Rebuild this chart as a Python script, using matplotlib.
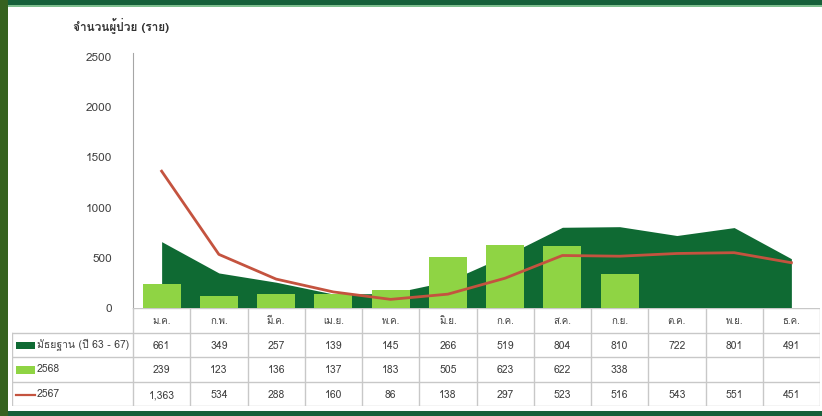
import matplotlib
matplotlib.use("Agg")
import matplotlib.pyplot as plt
from matplotlib import font_manager, ft2font
from matplotlib.patches import Rectangle
from matplotlib.lines import Line2D

# data
months = ["ม.ค.", "ก.พ.", "มี.ค.", "เม.ย.", "พ.ค.", "มิ.ย.", "ก.ค.", "ส.ค.", "ก.ย.", "ต.ค.", "พ.ย.", "ธ.ค."]
median_63_67 = [661, 349, 257, 139, 145, 266, 519, 804, 810, 722, 801, 491]
cases_2568 = [239, 123, 136, 137, 183, 505, 623, 622, 338]
cases_2567 = [1363, 534, 288, 160, 86, 138, 297, 523, 516, 543, 551, 451]
series_names = ["มัธยฐาน (ปี 63 - 67)", "2568", "2567"]
y_title = "จำนวนผู้ป่วย (ราย)"

# find a font with Thai glyphs
thai_font = None
for f in font_manager.fontManager.ttflist:
    try:
        if 0x0E08 in ft2font.FT2Font(f.fname).get_charmap():
            thai_font = f.name
            break
    except Exception:
        pass
fam = [thai_font, "DejaVu Sans"] if thai_font else ["DejaVu Sans"]
plt.rcParams["font.family"] = fam

dark = "#0f6a33"
light = "#8fd444"
red = "#c4533f"
grid_c = "#c8c8c8"
txt_c = "#404040"

W, H = 822, 416
fig = plt.figure(figsize=(W / 100, H / 100), dpi=100)

def fx(px):
    return px / W

def fy(py):
    return 1 - py / H

# main chart
x = list(range(len(months)))
ax = fig.add_axes([fx(133), fy(308), fx(820) - fx(133), fy(53) - fy(308)])
ax.fill_between(x, median_63_67, 0, color=dark, lw=0, zorder=1)
ax.bar(range(len(cases_2568)), cases_2568, width=0.66, color=light, zorder=2)
ax.plot(x, cases_2567, color=red, lw=2, zorder=3)
ax.set_xlim(-0.5, 11.5)
ax.set_ylim(0, 2540)
ax.set_yticks([0, 500, 1000, 1500, 2000, 2500])
ax.tick_params(axis="y", length=0, pad=15, labelsize=8.5, labelcolor=txt_c)
ax.set_xticks([])
for s in ["top", "right", "bottom"]:
    ax.spines[s].set_visible(False)
ax.spines["left"].set_color("#a6a6a6")
fig.text(fx(73), fy(25), y_title, fontsize=8.5, color="#333333", fontweight="bold", va="center", ha="left")

# data table underneath
tab = fig.add_axes([fx(12), fy(406), fx(820) - fx(12), fy(308) - fy(406)])
col_w = 687 / 12
left_x = -0.5 - (133 - 12) / col_w
tab.set_xlim(left_x, 11.5)
tab.set_ylim(4, 0)
tab.axis("off")

tab.plot([-0.5, 11.5], [0, 0], color=grid_c, lw=1)
for r in [1, 2, 3, 4]:
    tab.plot([left_x, 11.5], [r, r], color=grid_c, lw=1)
tab.plot([left_x, left_x], [1, 4], color=grid_c, lw=1)
for i in range(13):
    tab.plot([i - 0.5, i - 0.5], [0, 4], color=grid_c, lw=1)

for i, m in enumerate(months):
    tab.text(i, 0.55, m, ha="center", va="center", fontsize=7, color=txt_c)

rows = [median_63_67, cases_2568, cases_2567]
for r, vals in enumerate(rows):
    for i, v in enumerate(vals):
        tab.text(i, r + 1.55, f"{v:,}", ha="center", va="center", fontsize=7.5, color=txt_c)

# legend keys in first column
kx0 = left_x + 4 / col_w
kx1 = left_x + 23 / col_w
tab.add_patch(Rectangle((kx0, 1.38), kx1 - kx0, 0.3, color=dark, lw=0))
tab.add_patch(Rectangle((kx0, 2.38), kx1 - kx0, 0.3, color=light, lw=0))
tab.add_line(Line2D([kx0, kx1], [3.55, 3.55], color=red, lw=1.6))
for r, name in enumerate(series_names):
    tab.text(kx1 + 0.03, r + 1.5, name, ha="left", va="center", fontsize=7.5, color=txt_c)

# frame around the picture
fig.patches.append(Rectangle((0, fy(5)), 1, fy(0) - fy(5), transform=fig.transFigure, color="#16603a", lw=0))
fig.patches.append(Rectangle((0, fy(6.5)), 1, fy(5) - fy(6.5), transform=fig.transFigure, color="#7fbf8f", lw=0))
fig.patches.append(Rectangle((0, 0), 1, fy(411), transform=fig.transFigure, color="#16603a", lw=0))
fig.patches.append(Rectangle((0, 0), fx(8), 1, transform=fig.transFigure, color="#36621f", lw=0))

fig.savefig("out.png", dpi=100)
